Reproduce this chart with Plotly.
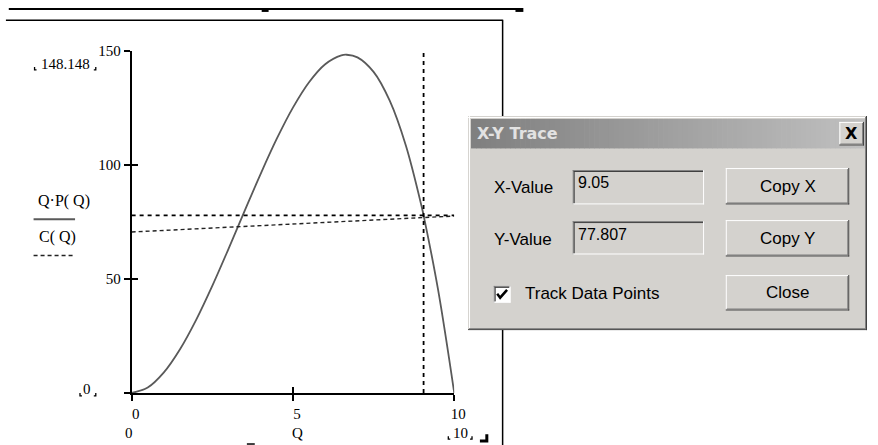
import plotly.graph_objects as go

W, H = 878, 445

# Q·P(Q) sampled along Q
q_vals = [0, 0.5, 1, 1.5, 2, 2.5, 3, 3.5, 4, 4.5, 5, 5.5, 6, 6.5, 6.667,
          7, 7.5, 8, 8.5, 9, 9.05, 9.5, 10]
revenue = [0, 2.375, 9, 19.125, 32, 46.875, 63, 79.625, 96, 111.375, 125,
           136.125, 144, 147.875, 148.148, 147, 140.625, 128, 108.375, 81,
           77.807, 45.125, 0]

# C(Q) straight line end points
cost_q = [0, 10]
cost = [70.5, 77.5]

# X-Y trace cursor position
trace_x = 9.05
trace_y = 77.807

x_range = [0, 10]
y_range = [0, 150]
x_ticks = [0, 5, 10]
y_ticks = [0, 50, 100, 150]
y_ticktext = ["", "50", "100", "150"]

SERIF = "Liberation Serif"
SANS = "Liberation Sans"
FACE = "#d4d2ce"

# plot box in pixels
PX0, PX1 = 133.3, 460.0
PY0, PY1 = 392.0, 43.3


def px(x):
    return x / W


def py(y):
    return 1 - y / H


shapes = []
annotations = []


def seg(x0, y0, x1, y1, color="black", width=1, dash=None):
    ln = dict(color=color, width=width)
    if dash:
        ln["dash"] = dash
    shapes.append(dict(type="line", xref="paper", yref="paper", layer="above",
                       x0=px(x0), y0=py(y0), x1=px(x1), y1=py(y1), line=ln))


def box(x0, y0, x1, y1, fill, line_color=None, width=0):
    shapes.append(dict(type="rect", xref="paper", yref="paper", layer="above",
                       x0=px(x0), y0=py(y0), x1=px(x1), y1=py(y1),
                       fillcolor=fill,
                       line=dict(width=width, color=line_color or fill)))


def path(points, color="black", width=1.5):
    d = "M " + " L ".join(f"{px(x):.5f},{py(y):.5f}" for x, y in points)
    shapes.append(dict(type="path", xref="paper", yref="paper", layer="above",
                       path=d, line=dict(color=color, width=width)))


def text(x, y, s, size=15, family=SERIF, color="black", anchor="center",
         bold=False):
    if bold:
        s = f"<b>{s}</b>"
    annotations.append(dict(x=px(x), y=py(y), xref="paper", yref="paper",
                            text=s, showarrow=False, xanchor=anchor,
                            yanchor="middle",
                            font=dict(family=family, size=size, color=color)))


def raised(x0, y0, x1, y1, fill=FACE):
    box(x0, y0, x1, y1, fill)
    seg(x0, y0 + 0.5, x1 - 1, y0 + 0.5, "white")
    seg(x0 + 0.5, y0, x0 + 0.5, y1 - 1, "white")
    seg(x0, y1 - 0.5, x1, y1 - 0.5, "#404040")
    seg(x1 - 0.5, y0, x1 - 0.5, y1, "#404040")
    seg(x0 + 1, y1 - 1.5, x1 - 1, y1 - 1.5, "#808080")
    seg(x1 - 1.5, y0 + 1, x1 - 1.5, y1 - 1, "#808080")


def sunken(x0, y0, x1, y1, fill=FACE):
    box(x0, y0, x1, y1, fill)
    seg(x0, y0 + 0.5, x1, y0 + 0.5, "#808080")
    seg(x0 + 0.5, y0, x0 + 0.5, y1, "#808080")
    seg(x0 + 1, y0 + 1.5, x1 - 1, y0 + 1.5, "#404040")
    seg(x0 + 1.5, y0 + 1, x0 + 1.5, y1 - 1, "#404040")
    seg(x0, y1 - 0.5, x1, y1 - 0.5, "white")
    seg(x1 - 0.5, y0, x1 - 0.5, y1, "white")


def corner_marks(xl, xr, y):
    path([(xl, y - 3), (xl, y), (xl + 2, y)], width=1.3)
    path([(xr - 2, y), (xr, y), (xr, y - 3)], width=1.3)


fig = go.Figure()

fig.add_trace(go.Scatter(
    x=q_vals, y=revenue, mode="lines", xaxis="x", yaxis="y",
    line=dict(color="#5a5a5a", width=1.8, shape="spline"), hoverinfo="skip"))

fig.add_trace(go.Scatter(
    x=cost_q, y=cost, mode="lines", xaxis="x", yaxis="y",
    line=dict(color="#222222", width=1.4, dash="4px,3px"), hoverinfo="skip"))

# trace cursor cross-hair
fig.add_trace(go.Scatter(
    x=[trace_x, trace_x], y=y_range, mode="lines", xaxis="x2", yaxis="y2",
    line=dict(color="black", width=1.8, dash="4px,4px"), hoverinfo="skip"))
fig.add_trace(go.Scatter(
    x=x_range, y=[trace_y, trace_y], mode="lines", xaxis="x2", yaxis="y2",
    line=dict(color="black", width=1.8, dash="4px,4px"), hoverinfo="skip"))

# ---- worksheet region frames ----
seg(9, 1, 528, 1, "black", 2)
seg(9.5, 0, 9.5, 2, "black", 1)
box(265, 0, 272, 4, "black")
box(522, 0, 530, 4, "black")
seg(6, 12.5, 509, 12.5, "black", 1.5)
seg(509, 12, 509, 445, "black", 1.5)

# ---- plot limits and axis expressions ----
text(66, 57, f"{max(revenue):.3f}", 15)
corner_marks(35, 97, 63)
text(88, 388, f"{y_range[0]}", 15)
corner_marks(81, 97, 395)
text(131, 433, f"{x_range[0]}", 15)
text(466, 433, f"{x_range[1]}", 15)
corner_marks(454, 478, 439)
text(301, 433, "Q", 15)
text(65, 197, "Q·P( Q)", 16)
seg(34, 215, 76, 215, "#5a5a5a", 2)
text(58, 233, "C( Q)", 16)
seg(34, 252, 76, 252, "#222222", 1.5, "4px,3px")
seg(250, 444, 258, 444, "black", 1.5)
path([(486, 441), (493, 441), (493, 434)], width=3)

# ---- X-Y Trace dialog ----
DX0, DY0, DX1, DY1 = 474, 110, 878, 328
box(DX0, DY0, DX1, DY1, FACE)
seg(DX0, DY0 + 1.5, DX1 - 1, DY0 + 1.5, "white")
seg(DX0 + 1.5, DY0, DX0 + 1.5, DY1 - 1, "white")
seg(DX0, DY1 - 0.5, DX1, DY1 - 0.5, "#404040")
seg(DX1 - 0.5, DY0, DX1 - 0.5, DY1, "#404040")
seg(DX0 + 1, DY1 - 1.5, DX1 - 1, DY1 - 1.5, "#808080")
seg(DX1 - 1.5, DY0 + 1, DX1 - 1.5, DY1 - 1, "#808080")

# title bar gradient
TX0, TX1, TY0, TY1 = 477, 876, 113, 143
n_strips = 80
for i in range(n_strips):
    t = i / (n_strips - 1)
    g = int(128 + (192 - 128) * t)
    x0 = TX0 + (TX1 - TX0) * i / n_strips
    x1 = TX0 + (TX1 - TX0) * (i + 1) / n_strips + 0.6
    box(x0, TY0, min(x1, TX1), TY1, f"rgb({g},{g},{g})")
text(481, 128, "X-Y Trace", 16, "DejaVu Sans", "#e2e2e2", "left", bold=True)
raised(850, 116, 875, 140)
text(862.5, 128, "X", 16, "DejaVu Sans", "black", bold=True)

# value rows
text(498, 183, "X-Value", 17, SANS, anchor="left")
sunken(580, 165, 713, 200)
text(583, 178, f"{trace_x:g}", 16, SANS, anchor="left")
raised(735, 163, 860, 200)
text(797.5, 182, "Copy X", 17, SANS)

text(498, 236, "Y-Value", 17, SANS, anchor="left")
sunken(580, 217, 713, 251)
text(583, 231, f"{trace_y:g}", 16, SANS, anchor="left")
raised(735, 216, 860, 253)
text(797.5, 235, "Copy Y", 17, SANS)

sunken(500, 283, 517, 300, "white")
path([(503.5, 291), (506.5, 295), (513.5, 287)], width=2.5)
text(530, 291, "Track Data Points", 17, SANS, anchor="left")
raised(735, 272, 860, 308)
text(797.5, 290, "Close", 17, SANS)

axis_common = dict(showgrid=False, zeroline=False, fixedrange=True,
                   tickcolor="black", tickwidth=1.5, ticklen=6)

fig.update_layout(
    width=W, height=H, autosize=False,
    margin=dict(l=0, r=0, t=0, b=0, pad=0),
    paper_bgcolor="white", plot_bgcolor="white",
    showlegend=False,
    xaxis=dict(domain=[px(PX0), px(PX1)], range=x_range, anchor="y",
               showline=True, linecolor="black", linewidth=2,
               ticks="outside", tickvals=x_ticks,
               ticktext=[str(v) for v in x_ticks], ticklabelshift=4,
               tickfont=dict(family=SERIF, size=15, color="black"),
               **axis_common),
    yaxis=dict(domain=[py(PY0), py(PY1)], range=y_range, anchor="x",
               showline=True, linecolor="black", linewidth=2,
               ticks="outside", tickvals=y_ticks, ticktext=y_ticktext,
               tickfont=dict(family=SERIF, size=15, color="black"),
               **axis_common),
    xaxis2=dict(overlaying="x", range=x_range, anchor="y2", side="bottom",
                ticks="inside", tickvals=x_ticks, showticklabels=False,
                showline=False, **axis_common),
    yaxis2=dict(overlaying="y", range=y_range, anchor="x2", side="left",
                ticks="inside", tickvals=y_ticks, showticklabels=False,
                showline=False, **axis_common),
    shapes=shapes,
    annotations=annotations,
)

fig.write_html("out.html", config={"displayModeBar": False})
